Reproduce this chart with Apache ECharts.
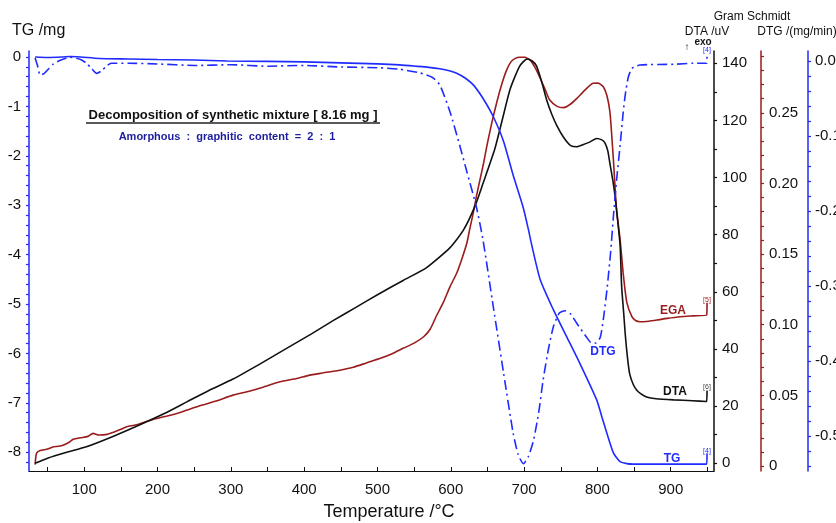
<!DOCTYPE html>
<html><head><meta charset="utf-8">
<script src="https://cdn.jsdelivr.net/npm/echarts@6/dist/echarts.min.js"></script>
<style>html,body{margin:0;padding:0;background:#fff}#c{width:836px;height:523px}</style>
</head><body><div id="c"></div>
<script>
// ---- data (temperature in °C) ----
const tgT = [33,50,70,81,95,120,160,200,250,295,350,400,450,500,530,555,570,585,598,608,620,631,644,658,672,685,699,706,710,722,740,758,776,799,806,813,822,831,840,849,880,920,949,949.5];
const tgV = [0,-0.01,0.0,0.01,0.0,-0.03,-0.04,-0.05,-0.06,-0.08,-0.09,-0.1,-0.12,-0.14,-0.16,-0.19,-0.21,-0.24,-0.28,-0.33,-0.43,-0.57,-0.84,-1.21,-1.71,-2.39,-3.06,-3.5,-3.78,-4.51,-5.12,-5.66,-6.2,-6.94,-7.28,-7.62,-8.02,-8.19,-8.23,-8.24,-8.24,-8.24,-8.24,-8.02];

const dtaT = [33,50,75,103,140,176,210,240,270,303,340,376,410,440,470,500,535,567,599,617,633,644,660,670,681,694,704,711,717,724,731,738,745,754,763,772,781,790,799,806,810,814,817,821,824,828,831,833,836,838,841,844,849,854,860,867,880,904,930,949,949.5];
const dtaV = [0,1.8,3.8,5.8,9.5,13.5,17.5,21.5,25.5,29.5,34.8,40.2,45.3,50,54.5,59,64,68.5,75.5,81.5,90,98,110,120,131,139,141.5,140.8,139,133.5,127,122,118,114,111.3,110.8,111.6,112.5,113.7,113.2,112.2,109.5,105,99,93.6,84,76,62,52,45,37,31.3,27.5,25.5,24.2,23.2,22.6,22.2,21.9,21.6,25.5];

const egaT = [33,35,40,50,58,65,72,80,85,95,105,112,120,131,140,150,158,170,182,194,210,225,240,260,280,303,325,345,367,390,405,422,445,467,485,504,520,535,550,563,572,581,590,599,608,616,622,626,631,635,640,645,649,656,663,670,676,682,688,694,701,708,715,722,729,735,745,754,763,772,783,794,801,808,813,817,819,822,826,831,835,840,847,852,858,870,881,895,913,930,949,949.5];
const egaV = [0.001,0.009,0.011,0.012,0.0137,0.014,0.0149,0.017,0.0189,0.020,0.021,0.0231,0.022,0.0224,0.024,0.026,0.0278,0.029,0.031,0.033,0.035,0.037,0.0396,0.043,0.046,0.0502,0.053,0.056,0.0597,0.062,0.064,0.0656,0.0675,0.0699,0.073,0.0762,0.0795,0.0833,0.087,0.0915,0.097,0.1069,0.116,0.127,0.1364,0.148,0.158,0.168,0.18,0.191,0.203,0.215,0.226,0.243,0.258,0.271,0.28,0.286,0.2885,0.2893,0.2893,0.2873,0.282,0.2744,0.266,0.259,0.2545,0.2536,0.256,0.2602,0.266,0.2708,0.271,0.2684,0.262,0.2507,0.238,0.215,0.182,0.16,0.137,0.116,0.1057,0.103,0.1021,0.1025,0.1033,0.1045,0.1057,0.1063,0.1069,0.1155];

const dtgT = [33,36,40,45,52,58,63,70,80,95,103,110,117,124,130,137,160,200,250,300,350,400,450,500,530,558,575,585,599,612,622,635,644,658,672,685,692,699,706,713,720,726,733,740,748,756,764,772,785,792,798,804,808,813,818,822,826,831,835,838,842,847,858,904,931,949,949.5];
const dtgV = [0.004,-0.005,-0.019,-0.017,-0.01,-0.004,-0.001,0.002,0.005,0.002,-0.003,-0.01,-0.0165,-0.013,-0.007,-0.003,-0.003,-0.004,-0.006,-0.005,-0.007,-0.006,-0.008,-0.009,-0.011,-0.016,-0.022,-0.032,-0.068,-0.112,-0.148,-0.195,-0.239,-0.328,-0.416,-0.496,-0.525,-0.537,-0.527,-0.505,-0.468,-0.425,-0.385,-0.354,-0.336,-0.333,-0.338,-0.35,-0.368,-0.376,-0.376,-0.368,-0.345,-0.305,-0.255,-0.205,-0.16,-0.112,-0.07,-0.045,-0.022,-0.01,-0.0053,-0.0044,-0.003,-0.003,0.010];

// ---- tick labels ----
const xLabels = [100,200,300,400,500,600,700,800,900];
const tgLabels = [0,-1,-2,-3,-4,-5,-6,-7,-8];
const dtaLabels = [0,20,40,60,80,100,120,140];
const egaLabels = [0,0.05,0.10,0.15,0.20,0.25];
const dtgLabels = [0,-0.1,-0.2,-0.3,-0.4,-0.5];

function steps(a,b,s){const r=[];const n=Math.round((b-a)/s);for(let i=0;i<=n;i++)r.push(+(a+i*s).toFixed(4));return r;}
const zip=(t,v)=>t.map((x,i)=>[x,v[i]]);

const BLUE='#1f2bff', RED='#9a1c1c', BLACK='#111', FONT='"Liberation Sans", Arial, sans-serif';

function yAx(o){
  return Object.assign({
    type:'value', splitLine:{show:false},
    axisLine:{show:true,onZero:false,lineStyle:{color:o.color,width:1.5}},
    axisTick:{show:true,length:3,lineStyle:{color:o.color,width:1.2},customValues:o.ticks},
    axisLabel:{color:BLACK,fontSize:15,fontFamily:FONT,margin:o.margin,customValues:o.labels,formatter:o.fmt},
  }, o.extra);
}

const chart = echarts.init(document.getElementById('c'), null, {renderer:'canvas'});
chart.setOption({
  animation:false,
  backgroundColor:'#fff',
  grid:{left:29,right:122,top:51,bottom:52,containLabel:false,outerBoundsMode:'none'},
  xAxis:{type:'value',min:24.7,max:959,splitLine:{show:false},
    axisLine:{onZero:false,lineStyle:{color:BLACK,width:1.2}},
    axisTick:{inside:true,length:4,lineStyle:{color:BLACK},customValues:steps(50,950,50)},
    axisLabel:{color:BLACK,fontSize:15,fontFamily:FONT,margin:11,customValues:xLabels}},
  yAxis:[
    yAx({color:BLUE,ticks:steps(-8.2,0,0.2),labels:tgLabels,margin:8,fmt:v=>String(v),
         extra:{position:'left',min:-8.38,max:0.121}}),
    yAx({color:BLACK,ticks:steps(0,140,10),labels:dtaLabels,margin:8,fmt:v=>String(v),
         extra:{position:'right',offset:0,min:-2.7,max:144.3}}),
    yAx({color:RED,ticks:steps(0,0.29,0.01),labels:egaLabels,margin:8,fmt:v=>v===0?'0':v.toFixed(2),
         extra:{position:'right',offset:47,min:-0.0035,max:0.2937}}),
    yAx({color:BLUE,ticks:steps(-0.54,0,0.02),labels:dtgLabels,margin:7,fmt:v=>v.toFixed(1),
         extra:{position:'right',offset:94,min:-0.5467,max:0.0133}})
  ],
  series:[
    {name:'EGA',type:'line',yAxisIndex:2,data:zip(egaT,egaV),showSymbol:false,smooth:0.2,
      lineStyle:{color:RED,width:1.6}},
    {name:'DTA',type:'line',yAxisIndex:1,data:zip(dtaT,dtaV),showSymbol:false,smooth:0.2,
      lineStyle:{color:BLACK,width:1.6}},
    {name:'TG',type:'line',yAxisIndex:0,data:zip(tgT,tgV),showSymbol:false,smooth:0.2,
      lineStyle:{color:BLUE,width:1.6}},
    {name:'DTG',type:'line',yAxisIndex:3,data:zip(dtgT,dtgV),showSymbol:false,smooth:0.2,
      lineStyle:{color:BLUE,width:1.6,type:[10,4,2,4]}}
  ],
  graphic:[
    {type:'text',x:12,y:31,style:{text:'TG /mg',font:'16px '+FONT,fill:BLACK,textVerticalAlign:'middle'}},
    {type:'text',x:389,y:512,style:{text:'Temperature /°C',font:'18px '+FONT,fill:BLACK,textAlign:'center',textVerticalAlign:'middle'}},
    {type:'text',x:752,y:17,style:{text:'Gram Schmidt',font:'12px '+FONT,fill:BLACK,textAlign:'center',textVerticalAlign:'middle'}},
    {type:'text',x:707,y:32,style:{text:'DTA /uV',font:'12px '+FONT,fill:BLACK,textAlign:'center',textVerticalAlign:'middle'}},
    {type:'text',x:797,y:32,style:{text:'DTG /(mg/min)',font:'12px '+FONT,fill:BLACK,textAlign:'center',textVerticalAlign:'middle'}},
    {type:'text',x:687,y:47,style:{text:'↑',font:'10px '+FONT,fill:BLACK,textAlign:'center',textVerticalAlign:'middle'}},
    {type:'text',x:703,y:42,style:{text:'exo',font:'bold 10px '+FONT,fill:BLACK,textAlign:'center',textVerticalAlign:'middle'}},
    {type:'text',x:233,y:115,style:{text:'Decomposition of synthetic mixture [ 8.16 mg ]',font:'bold 13px '+FONT,fill:BLACK,textAlign:'center',textVerticalAlign:'middle'}},
    {type:'line',shape:{x1:86,y1:123,x2:380,y2:123},style:{stroke:'#222',lineWidth:1.3}},
    {type:'text',x:227,y:137,style:{text:'Amorphous  :  graphitic  content  =  2  :  1',font:'bold 11px '+FONT,fill:'#1d1d9e',textAlign:'center',textVerticalAlign:'middle'}},
    {type:'text',x:673,y:311,style:{text:'EGA',font:'bold 12px '+FONT,fill:RED,textAlign:'center',textVerticalAlign:'middle'}},
    {type:'text',x:603,y:352,style:{text:'DTG',font:'bold 12px '+FONT,fill:BLUE,textAlign:'center',textVerticalAlign:'middle'}},
    {type:'text',x:675,y:392,style:{text:'DTA',font:'bold 12px '+FONT,fill:BLACK,textAlign:'center',textVerticalAlign:'middle'}},
    {type:'text',x:672,y:459,style:{text:'TG',font:'bold 12px '+FONT,fill:BLUE,textAlign:'center',textVerticalAlign:'middle'}},
    {type:'text',x:707,y:300,style:{text:'[5]',font:'7px '+FONT,fill:RED,textAlign:'center',textVerticalAlign:'middle'}},
    {type:'text',x:707,y:387,style:{text:'[6]',font:'7px '+FONT,fill:'#444',textAlign:'center',textVerticalAlign:'middle'}},
    {type:'text',x:707,y:451,style:{text:'[4]',font:'7px '+FONT,fill:BLUE,textAlign:'center',textVerticalAlign:'middle'}},
    {type:'text',x:707,y:50,style:{text:'[4]',font:'7px '+FONT,fill:BLUE,textAlign:'center',textVerticalAlign:'middle'}}
  ]
});
</script></body></html>
